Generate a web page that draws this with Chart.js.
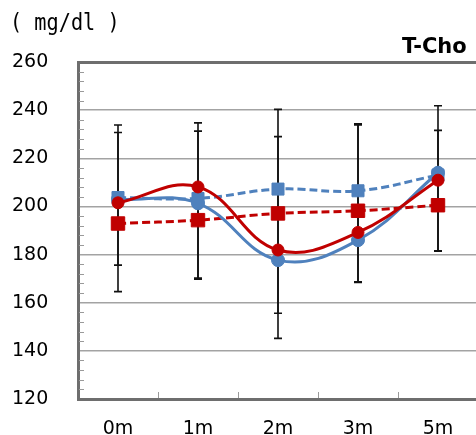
<!DOCTYPE html>
<html><head><meta charset="utf-8">
<style>html,body{margin:0;padding:0;background:#fff;overflow:hidden;}#wrap{width:480px;height:435px;position:relative;}</style>
<script src="https://cdn.jsdelivr.net/npm/chart.js@4"></script>
</head><body><div id="wrap"><canvas id="c"></canvas></div>
<script>
const categories = ['0m', '1m', '2m', '3m', '5m'];
const blueSolid  = [203.0, 201.3, 177.7, 186.0, 214.0];
const redSolid   = [201.5, 208.1, 181.9, 189.2, 210.9];
const blueDashed = [203.7, 203.3, 207.2, 206.5, 213.0];
const redDashed  = [192.9, 194.3, 197.1, 198.2, 200.5];
const errHighA = [233.8, 234.7, 240.3, 234.3, 241.8];
const errLowA  = [164.6, 169.8, 145.2, 168.4, 181.4];
const errHighB = [230.7, 231.3, 229.0, 233.9, 231.6];
const errLowB  = [175.6, 170.2, 155.6, 168.7, 181.6];
const yMin = 120, yMax = 260, yStep = 20, minorStep = 4;
const titleText = 'T-Cho';
const unitText = '( mg/dl )';

const BLUE = '#4f81bd', RED = '#c00000', AXIS = '#6e6e6e', GRID = '#a3a3a3';

const extras = {
  id: 'extras',
  beforeDatasetsDraw(chart) {
    const {ctx, chartArea: a, scales: {x, y}} = chart;
    ctx.save();
    ctx.strokeStyle = '#9a9a9a'; ctx.lineWidth = 1;
    ctx.beginPath();
    for (let v = yMin + minorStep; v < yMax; v += minorStep) {
      if (v % yStep === 0) continue;
      const py = Math.round(y.getPixelForValue(v)) + 0.5;
      ctx.moveTo(a.left + 1, py); ctx.lineTo(a.left + 6, py);
    }
    for (let i = 0; i < categories.length - 1; i++) {
      const px = Math.round((x.getPixelForValue(i) + x.getPixelForValue(i + 1)) / 2) + 0.5;
      ctx.moveTo(px, a.bottom - 1); ctx.lineTo(px, a.bottom - 7);
    }
    ctx.stroke();
    ctx.strokeStyle = '#111'; ctx.lineWidth = 1.6;
    [[errHighA, errLowA], [errHighB, errLowB]].forEach(([hi, lo]) => {
      categories.forEach((c, i) => {
        const px = x.getPixelForValue(i);
        const t = y.getPixelForValue(hi[i]), b = y.getPixelForValue(lo[i]);
        ctx.beginPath();
        ctx.moveTo(px, t); ctx.lineTo(px, b);
        ctx.moveTo(px - 4, t); ctx.lineTo(px + 4, t);
        ctx.moveTo(px - 4, b); ctx.lineTo(px + 4, b);
        ctx.stroke();
      });
    });
    ctx.restore();
  },
  afterDraw(chart) {
    const ctx = chart.ctx;
    ctx.save();
    ctx.fillStyle = '#000';
    ctx.textBaseline = 'alphabetic';
    ctx.textAlign = 'left';
    ctx.save();
    ctx.translate(10, 30);
    ctx.scale(0.88, 1);
    ctx.font = '23px "DejaVu Sans Mono"';
    ctx.fillText(unitText, 0, 0);
    ctx.restore();
    ctx.font = 'bold 21px "DejaVu Sans"';
    ctx.fillText(titleText, 402, 53);
    ctx.restore();
  }
};

new Chart(document.getElementById('c'), {
  type: 'line',
  data: {
    labels: categories,
    datasets: [
      {data: redSolid, borderColor: RED, backgroundColor: RED, borderWidth: 3, tension: 0.4,
       pointStyle: 'circle', pointRadius: 6, pointBorderWidth: 1},
      {data: blueSolid, borderColor: BLUE, backgroundColor: BLUE, borderWidth: 3, tension: 0.4,
       pointStyle: 'circle', pointRadius: 6.5, pointBorderWidth: 1},
      {data: redDashed, borderColor: RED, backgroundColor: RED, borderWidth: 3, tension: 0.4,
       borderDash: [8, 4], pointStyle: 'rect', pointRadius: 9.5, pointBorderWidth: 1},
      {data: blueDashed, borderColor: BLUE, backgroundColor: BLUE, borderWidth: 3, tension: 0.4,
       borderDash: [8, 4], pointStyle: 'rect', pointRadius: 8.5, pointBorderWidth: 1}
    ]
  },
  options: {
    responsive: true, maintainAspectRatio: false, animation: false,
    layout: {autoPadding: false, padding: {top: 62, right: 2, left: 12, bottom: 0}},
    plugins: {legend: {display: false}, tooltip: {enabled: false}},
    scales: {
      x: {
        offset: true,
        grid: {display: false, drawTicks: false},
        border: {display: true, color: AXIS, width: 3},
        ticks: {font: {family: 'DejaVu Sans', size: 19}, color: '#000', padding: 18.5},
        afterFit: s => { s.height = 36; }
      },
      y: {
        min: yMin, max: yMax,
        ticks: {stepSize: yStep, font: {family: 'DejaVu Sans', size: 19}, color: '#000', padding: 0, crossAlign: 'far'},
        grid: {drawTicks: false,
               color: c => c.tick && c.tick.value === yMax ? AXIS : GRID,
               lineWidth: c => c.tick && c.tick.value === yMax ? 3 : 1.5},
        border: {display: true, color: AXIS, width: 3},
        afterFit: s => { s.width = 66; }
      }
    }
  },
  plugins: [extras]
});
</script>
</body></html>
